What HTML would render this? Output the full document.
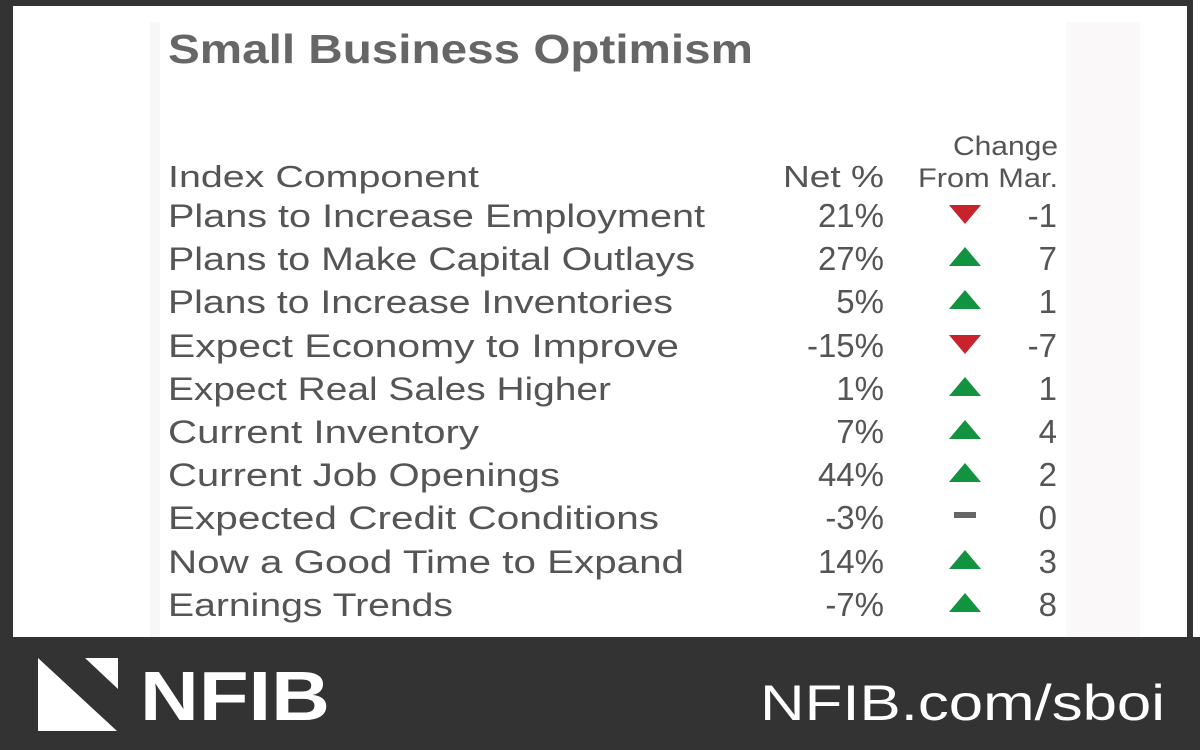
<!DOCTYPE html>
<html><head><meta charset="utf-8"><style>
html,body{margin:0;padding:0;background:#fff;}
svg{display:block;}
text{font-family:"Liberation Sans",sans-serif;}
</style></head><body>
<svg width="1200" height="750" viewBox="0 0 1200 750" xmlns="http://www.w3.org/2000/svg">
<rect x="0" y="0" width="1200" height="750" fill="#fff"/>
<rect x="0" y="0" width="1193" height="6" fill="#333"/>
<rect x="0" y="0" width="13" height="750" fill="#333"/>
<rect x="1187" y="0" width="6" height="640" fill="#333"/>
<rect x="150" y="22" width="10" height="615" fill="#f7f7f7"/>
<rect x="1066" y="22" width="74" height="615" fill="#faf8f8"/>
<rect x="0" y="637" width="1200" height="113" fill="#333"/>
<text x="168" y="63" font-size="41" font-weight="bold" fill="#666" textLength="585" lengthAdjust="spacingAndGlyphs">Small Business Optimism</text>
<g fill="#555" font-size="31">
<text x="953" y="155" font-size="27" textLength="105" lengthAdjust="spacingAndGlyphs">Change</text>
<text x="918" y="187" font-size="27" textLength="140" lengthAdjust="spacingAndGlyphs">From Mar.</text>
<text x="168" y="187" textLength="311" lengthAdjust="spacingAndGlyphs">Index Component</text>
<text x="783" y="187" textLength="101" lengthAdjust="spacingAndGlyphs">Net %</text>
</g>
<g fill="#555" font-size="32">
<text x="168" y="227" textLength="537" lengthAdjust="spacingAndGlyphs">Plans to Increase Employment</text>
<text x="168" y="270" textLength="527" lengthAdjust="spacingAndGlyphs">Plans to Make Capital Outlays</text>
<text x="168" y="313" textLength="505" lengthAdjust="spacingAndGlyphs">Plans to Increase Inventories</text>
<text x="168" y="357" textLength="511" lengthAdjust="spacingAndGlyphs">Expect Economy to Improve</text>
<text x="168" y="400" textLength="443" lengthAdjust="spacingAndGlyphs">Expect Real Sales Higher</text>
<text x="168" y="443" textLength="311" lengthAdjust="spacingAndGlyphs">Current Inventory</text>
<text x="168" y="486" textLength="392" lengthAdjust="spacingAndGlyphs">Current Job Openings</text>
<text x="168" y="529" textLength="491" lengthAdjust="spacingAndGlyphs">Expected Credit Conditions</text>
<text x="168" y="573" textLength="516" lengthAdjust="spacingAndGlyphs">Now a Good Time to Expand</text>
<text x="168" y="616" textLength="285" lengthAdjust="spacingAndGlyphs">Earnings Trends</text>
</g>
<g fill="#555" font-size="33" text-anchor="end">
<text x="884" y="227">21%</text><text x="1057" y="227">-1</text>
<text x="884" y="270">27%</text><text x="1057" y="270">7</text>
<text x="884" y="313">5%</text><text x="1057" y="313">1</text>
<text x="884" y="357">-15%</text><text x="1057" y="357">-7</text>
<text x="884" y="400">1%</text><text x="1057" y="400">1</text>
<text x="884" y="443">7%</text><text x="1057" y="443">4</text>
<text x="884" y="486">44%</text><text x="1057" y="486">2</text>
<text x="884" y="529">-3%</text><text x="1057" y="529">0</text>
<text x="884" y="573">14%</text><text x="1057" y="573">3</text>
<text x="884" y="616">-7%</text><text x="1057" y="616">8</text>
</g>
<g>
<polygon points="949,205 981,205 965,224" fill="#c8232c"/>
<polygon points="949,266 981,266 965,247" fill="#12933f"/>
<polygon points="949,309 981,309 965,290" fill="#12933f"/>
<polygon points="949,335 981,335 965,354" fill="#c8232c"/>
<polygon points="949,396 981,396 965,377" fill="#12933f"/>
<polygon points="949,439 981,439 965,420" fill="#12933f"/>
<polygon points="949,482 981,482 965,463" fill="#12933f"/>
<rect x="954" y="512" width="22" height="6" fill="#666"/>
<polygon points="949,569 981,569 965,550" fill="#12933f"/>
<polygon points="949,612 981,612 965,593" fill="#12933f"/>
</g>
<polygon points="38,658 117,731 38,731" fill="#fff"/>
<polygon points="85,658 118,658 118,689" fill="#fff"/>
<text x="140" y="720" font-size="70" font-weight="bold" fill="#fff" textLength="190" lengthAdjust="spacingAndGlyphs">NFIB</text>
<text x="1165" y="720" text-anchor="end" font-size="50" fill="#fff" textLength="405" lengthAdjust="spacingAndGlyphs">NFIB.com/sboi</text>
</svg>
</body></html>
